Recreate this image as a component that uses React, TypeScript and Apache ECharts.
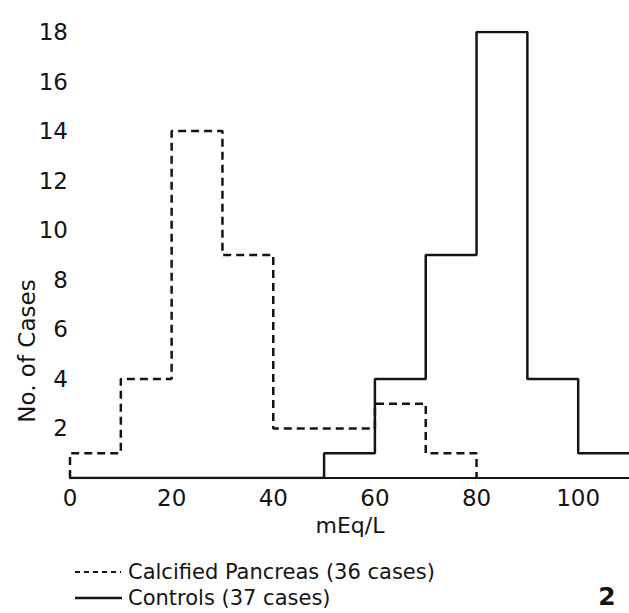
import React, { useEffect, useRef } from "react";
import * as echarts from "echarts";

const binWidth = 10;
const pancreasStart = 0;
const pancreasCounts = [1, 4, 14, 9, 2, 2, 3, 1];
const controlsStart = 0;
const controlsCounts = [0, 0, 0, 0, 0, 1, 4, 9, 18, 4, 1];
const xTicks = [0, 20, 40, 60, 80, 100];
const yTicks = [2, 4, 6, 8, 10, 12, 14, 16, 18];
const legendLabels = ["Calcified Pancreas (36 cases)", "Controls (37 cases)"];

function stepPath(start: number, counts: number[], closeEnd: boolean): number[][] {
  const pts: number[][] = [[start, 0]];
  counts.forEach((c, i) => {
    const x0 = start + i * binWidth;
    pts.push([x0, c]);
    pts.push([x0 + binWidth, c]);
  });
  if (closeEnd) pts.push([start + counts.length * binWidth, 0]);
  return pts;
}

const FONT = "'DejaVu Sans', Lato, sans-serif";
const INK = "#141414";

export default function App() {
  const ref = useRef<HTMLDivElement>(null);
  useEffect(() => {
    if (!ref.current) return;
    const chart = echarts.init(ref.current, undefined, { renderer: "svg" });
    chart.setOption({
      animation: false,
      backgroundColor: "#ffffff",
      grid: { left: 70, right: 0, top: 32, bottom: 135 },
      xAxis: {
        type: "value",
        min: 0,
        max: 110,
        interval: 20,
        axisLine: { show: true, lineStyle: { color: INK, width: 2 } },
        axisTick: { show: false },
        splitLine: { show: false },
        axisLabel: {
          color: INK,
          fontFamily: FONT,
          fontSize: 23,
          margin: 8,
          showMaxLabel: false,
          formatter: (v: number) => (xTicks.includes(v) ? String(v) : ""),
        },
      },
      yAxis: {
        type: "value",
        min: 0,
        max: 18,
        interval: 2,
        axisLine: { show: false },
        axisTick: { show: false },
        splitLine: { show: false },
        axisLabel: {
          color: INK,
          fontFamily: FONT,
          fontSize: 23,
          margin: 2,
          formatter: (v: number) => (yTicks.includes(v) ? String(v) : ""),
        },
      },
      series: [
        {
          name: legendLabels[0],
          type: "line",
          symbol: "none",
          data: stepPath(pancreasStart, pancreasCounts, true),
          lineStyle: { color: INK, width: 2.5, type: [8, 5] },
        },
        {
          name: legendLabels[1],
          type: "line",
          symbol: "none",
          data: stepPath(controlsStart, controlsCounts, false),
          lineStyle: { color: INK, width: 2.5 },
        },
      ],
      graphic: [
        {
          type: "text",
          x: 27,
          y: 351,
          rotation: Math.PI / 2,
          style: {
            text: "No. of Cases",
            font: `23px ${FONT}`,
            fill: INK,
            align: "center",
            verticalAlign: "middle",
          },
        },
        {
          type: "text",
          x: 350,
          y: 525,
          style: {
            text: "mEq/L",
            font: `22px ${FONT}`,
            fill: INK,
            align: "center",
            verticalAlign: "middle",
          },
        },
        {
          type: "line",
          shape: { x1: 75, y1: 572, x2: 121, y2: 572 },
          style: { stroke: INK, lineWidth: 2, lineDash: [5, 4] },
        },
        {
          type: "text",
          x: 128,
          y: 572,
          style: {
            text: legendLabels[0],
            font: `21px ${FONT}`,
            fill: INK,
            align: "left",
            verticalAlign: "middle",
          },
        },
        {
          type: "line",
          shape: { x1: 75, y1: 598, x2: 122, y2: 598 },
          style: { stroke: INK, lineWidth: 2.5 },
        },
        {
          type: "text",
          x: 128,
          y: 598,
          style: {
            text: legendLabels[1],
            font: `21px ${FONT}`,
            fill: INK,
            align: "left",
            verticalAlign: "middle",
          },
        },
        {
          type: "text",
          x: 607,
          y: 596,
          style: {
            text: "2",
            font: `bold 25px ${FONT}`,
            fill: INK,
            align: "center",
            verticalAlign: "middle",
          },
        },
      ],
    });
    return () => chart.dispose();
  }, []);
  return (
    <div
      ref={ref}
      style={{ position: "fixed", left: 0, top: 0, width: 629, height: 613, background: "#fff" }}
    />
  );
}
